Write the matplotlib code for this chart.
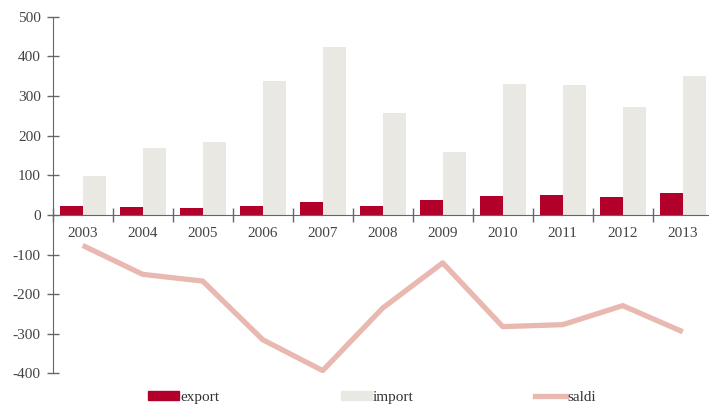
import numpy as np
import matplotlib.pyplot as plt
from matplotlib.patches import Patch
from matplotlib.lines import Line2D

# data
years = ['2003', '2004', '2005', '2006', '2007', '2008', '2009', '2010', '2011', '2012', '2013']
export = [22, 20, 18, 22, 32, 23, 38, 49, 51, 44, 56]
imports = [99, 170, 185, 337, 425, 258, 159, 331, 328, 273, 351]
saldi = [-77, -150, -167, -315, -393, -235, -121, -282, -277, -229, -295]

c_export = '#b3002b'
c_import = '#e9e8e3'
c_saldi = '#e9b8b0'
c_axis = '#666666'

plt.rcParams['font.family'] = ['Liberation Serif', 'DejaVu Serif']

fig = plt.figure(figsize=(7.09, 4.07), dpi=100)
ax = fig.add_axes([0.0743, 0.0826, 0.931, 0.876])

x = np.arange(len(years))
w = 0.385
ax.bar(x - w / 2, export, w, color=c_export, label='export', zorder=2)
ax.bar(x + w / 2, imports, w, color=c_import, label='import', zorder=2)
ax.plot(x, saldi, color=c_saldi, lw=3.8, solid_capstyle='butt', label='saldi', zorder=3)

ax.set_xlim(-0.5, len(years) - 0.5)
ax.set_ylim(-400, 500)
ax.set_yticks(np.arange(-400, 501, 100))
ax.set_yticklabels([str(v) for v in range(-400, 501, 100)])

# category boundaries as ticks, labels at centres
ax.set_xticks(np.arange(-0.5, len(years) + 0.5, 1))
ax.set_xticklabels([])
ax.set_xticks(x, minor=True)
ax.set_xticklabels(years, minor=True)
ax.tick_params(axis='x', which='major', direction='inout', length=10, color=c_axis, width=1)
ax.tick_params(axis='x', which='minor', length=0, pad=9, labelsize=11, labelcolor='#444444')
ax.tick_params(axis='y', direction='inout', length=9, color=c_axis, width=1,
               labelsize=11, labelcolor='#444444', pad=4)

for s in ['top', 'right']:
    ax.spines[s].set_visible(False)
ax.spines['bottom'].set_position(('data', 0))
ax.spines['bottom'].set_color(c_axis)
ax.spines['left'].set_color(c_axis)
ax.spines['bottom'].set_zorder(4)

handles = [Patch(color=c_export), Patch(color=c_import),
           Line2D([0], [0], color=c_saldi, lw=3.8)]
fig.legend(handles, ['export', 'import', 'saldi'], ncol=3, loc='center',
           bbox_to_anchor=(0.525, 0.024), frameon=False, fontsize=11,
           handlelength=2.0, handleheight=0.6, handletextpad=0.1,
           columnspacing=7.95, labelcolor='#333333')

fig.savefig('out.png', dpi=100)
